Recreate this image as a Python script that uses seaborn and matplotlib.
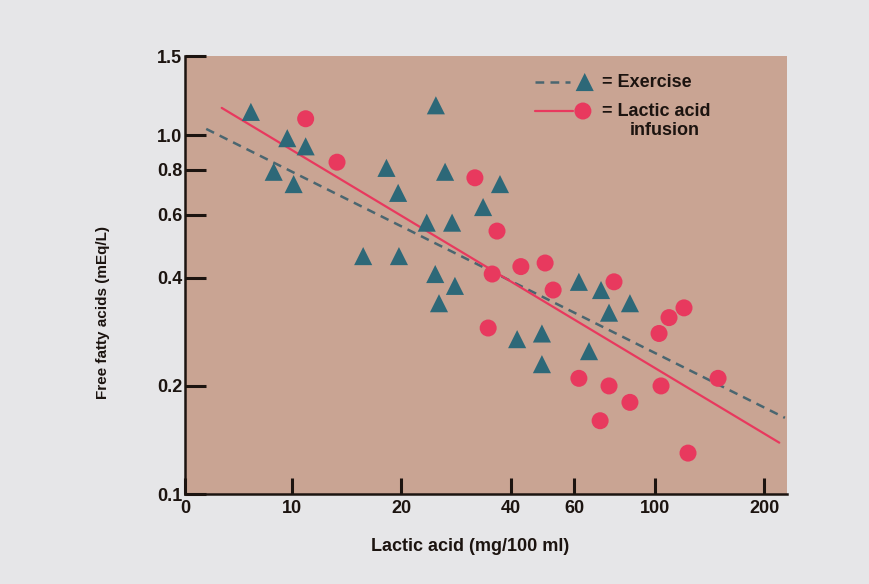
import matplotlib
matplotlib.use("Agg")
import matplotlib.pyplot as plt
import seaborn as sns
import pandas as pd

# Data (log-log plot)
exercise_lactic = [7.7, 24.9, 9.7, 10.9, 8.9, 10.1, 18.2, 26.4, 19.6, 23.5, 27.6, 37.4, 33.6,
                   15.7, 19.7, 24.8, 28.1, 25.4, 61.7, 71.0, 85.3, 74.7, 41.7, 48.8, 48.8, 65.8]
exercise_ffa = [1.16, 1.21, 0.98, 0.93, 0.79, 0.73, 0.81, 0.79, 0.69, 0.57, 0.57, 0.73, 0.63,
                0.46, 0.46, 0.41, 0.38, 0.34, 0.39, 0.37, 0.34, 0.32, 0.27, 0.28, 0.23, 0.25]

infusion_lactic = [10.9, 13.3, 31.9, 36.7, 35.6, 42.7, 49.8, 52.4, 77.1, 34.7,
                   61.7, 74.7, 85.3, 70.6, 102.6, 109.3, 120.2, 103.9, 149.2, 123.3]
infusion_ffa = [1.11, 0.84, 0.76, 0.54, 0.41, 0.43, 0.44, 0.37, 0.39, 0.29,
                0.21, 0.20, 0.18, 0.16, 0.28, 0.31, 0.33, 0.20, 0.21, 0.13]

# regression lines as drawn in the figure (end points)
exercise_fit_x = [5.8, 228]
exercise_fit_y = [1.04, 0.163]
infusion_fit_x = [6.4, 220]
infusion_fit_y = [1.19, 0.139]

x_ticks = [5.07, 10, 20, 40, 60, 100, 200]
x_ticklabels = ["0", "10", "20", "40", "60", "100", "200"]
y_ticks = [0.1, 0.2, 0.4, 0.6, 0.8, 1.0, 1.66]
y_ticklabels = ["0.1", "0.2", "0.4", "0.6", "0.8", "1.0", "1.5"]

df_ex = pd.DataFrame({"lactic": exercise_lactic, "ffa": exercise_ffa})
df_inf = pd.DataFrame({"lactic": infusion_lactic, "ffa": infusion_ffa})

# colours
bg_fig = "#e6e6e8"
bg_ax = "#c9a493"
teal = "#2d6878"
pink = "#e8395e"
dash_col = "#4a6670"
ink = "#1c1410"

sns.set_theme(style="ticks")
plt.rcParams["font.family"] = ["Liberation Sans", "DejaVu Sans"]

fig = plt.figure(figsize=(8.69, 5.84), dpi=100, facecolor=bg_fig)
ax = fig.add_axes([0.2129, 0.1541, 0.6927, 0.7500])
ax.set_facecolor(bg_ax)
ax.set_xscale("log")
ax.set_yscale("log")

# fitted lines
sns.lineplot(x=exercise_fit_x, y=exercise_fit_y, ax=ax, color=dash_col, lw=1.8,
             dashes=False, zorder=2).lines[-1].set_dashes((3.5, 2.5))
sns.lineplot(x=infusion_fit_x, y=infusion_fit_y, ax=ax, color=pink, lw=1.6, zorder=2)

# points
sns.scatterplot(data=df_ex, x="lactic", y="ffa", ax=ax, marker="^", s=170,
                color=teal, edgecolor="none", zorder=3)
sns.scatterplot(data=df_inf, x="lactic", y="ffa", ax=ax, marker="o", s=150,
                color=pink, edgecolor="none", zorder=3)

ax.set_xlim(x_ticks[0], 231)
ax.set_ylim(y_ticks[0], y_ticks[-1])
ax.minorticks_off()
ax.set_xticks(x_ticks)
ax.set_xticklabels(x_ticklabels)
ax.set_yticks(y_ticks)
ax.set_yticklabels(y_ticklabels)

for s in ["top", "right"]:
    ax.spines[s].set_visible(False)
for s in ["left", "bottom"]:
    ax.spines[s].set_color(ink)
    ax.spines[s].set_linewidth(1.8)

ax.tick_params(axis="y", direction="in", length=15, width=2.2, color=ink, pad=2,
               labelsize=13, labelcolor=ink)
ax.tick_params(axis="x", direction="in", length=11.5, width=2.2, color=ink, pad=4,
               labelsize=13, labelcolor=ink)
for lab in ax.get_xticklabels() + ax.get_yticklabels():
    lab.set_fontweight("bold")

ax.set_xlabel("Lactic acid (mg/100 ml)", fontsize=13, fontweight="bold", color=ink, va="center")
ax.xaxis.set_label_coords(0.473, -0.119)
ax.set_ylabel("Free fatty acids (mEq/L)", fontsize=11, fontweight="bold", color=ink, va="center")
ax.yaxis.set_label_coords(-0.137, 0.415)

# hand-made legend in the upper right
ax.plot([0.581, 0.640], [0.9406, 0.9406], transform=ax.transAxes, color=dash_col,
        lw=1.8, dashes=(3.5, 2.5))
ax.scatter([0.664], [0.9406], transform=ax.transAxes, marker="^", s=170, color=teal,
           edgecolor="none", clip_on=False)
ax.text(0.693, 0.9406, "= Exercise", transform=ax.transAxes, fontsize=13,
        fontweight="bold", color=ink, va="center", ha="left")
ax.plot([0.581, 0.645], [0.8744, 0.8744], transform=ax.transAxes, color=pink, lw=1.6)
ax.scatter([0.661], [0.8744], transform=ax.transAxes, marker="o", s=150, color=pink,
           edgecolor="none", clip_on=False)
ax.text(0.693, 0.8744, "= Lactic acid", transform=ax.transAxes, fontsize=13,
        fontweight="bold", color=ink, va="center", ha="left")
ax.text(0.739, 0.829, "infusion", transform=ax.transAxes, fontsize=13,
        fontweight="bold", color=ink, va="center", ha="left")

fig.savefig("out.png", dpi=100, facecolor=bg_fig)
